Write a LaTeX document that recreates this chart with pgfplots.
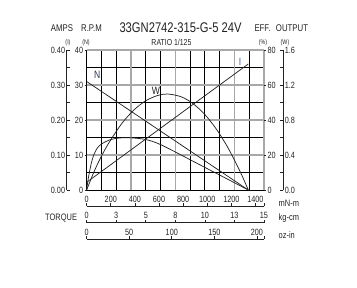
\documentclass[border=0pt]{standalone}
\usepackage{pgfplots}
\pgfplotsset{compat=1.18}
\usepackage{fontspec}
\setmainfont{Liberation Sans}[FakeStretch=0.8]
\definecolor{ink}{HTML}{222222}
\definecolor{gridgray}{HTML}{A8A8A8}
\definecolor{lblblue}{HTML}{3A5AA8}
\definecolor{lblnavy}{HTML}{27324F}
\begin{document}
\begin{tikzpicture}[x=1pt,y=1pt]
\useasboundingbox (0,0) rectangle (267.75,216);
\pgfplotsset{
 ov/.style={at={(65pt,73.5pt)}, anchor=south west, width=133pt, height=105pt, scale only axis, xmin=0, xmax=15, clip=false},
 every tick label/.append style={font=\fontsize{6.8}{7}\selectfont, text=ink},
 /pgf/number format/assume math mode=true,
 /pgf/number format/1000 sep={},
}
% grid + N
\begin{axis}[ov, ymin=0, ymax=40,
 xtick={0,1.25,2.5,5,6.25,8.75,10,11.25,13.75},
 ytick={0,5,15,25,35},
 extra x ticks={3.75,7.5,12.5,15},
 extra y ticks={10,20,30,40},
 xticklabels={}, yticklabels={},
 extra x tick labels={}, extra y tick labels={},
 grid=major,
 major grid style={black, line width=0.65pt},
 extra x tick style={grid=major, major grid style={gridgray, line width=0.8pt}},
 extra y tick style={grid=major, major grid style={gridgray, line width=0.8pt}},
 axis line style={draw=none},
 major tick length=0pt,
]
\addplot[ink, line width=0.55pt] coordinates {(0,31) (13.67,0)};
\node[lblnavy, font=\fontsize{8}{9}\selectfont] at (axis cs:0.9,32.9) {N};
\node[ink, font=\fontsize{8}{9}\selectfont] at (axis cs:5.86,28.4) {W};
\node[lblblue, font=\fontsize{8}{9}\selectfont] at (axis cs:12.97,36.7) {I};
\end{axis}
% N tick labels
\begin{axis}[ov, ymin=0, ymax=40, axis y line*=left, hide x axis,
 axis line style={draw=none}, ytick={0,10,20,30,40},
 major tick length=1.5pt, tick align=outside, tick style={ink, line width=0.5pt},
 yticklabel style={inner sep=1pt}]
\addplot[draw=none] coordinates {(0,0)};
\end{axis}
% current
\begin{axis}[ov, ymin=0, ymax=0.4, hide axis]
\addplot[ink, line width=0.55pt] coordinates {(0,0.022) (13.67,0.36)};
\end{axis}
% efficiency
\begin{axis}[ov, ymin=0, ymax=80, axis y line*=right, hide x axis,
 axis line style={draw=none}, ytick={0,20,40,60,80},
 major tick length=1.5pt, tick align=outside, tick style={ink, line width=0.5pt},
 yticklabel style={inner sep=1pt}]
\addplot[ink, line width=0.55pt, smooth, tension=0.5] coordinates {
(0,0) (0.1,5) (0.2,9) (0.4,15.5) (0.6,20) (0.9,24) (1.3,26.5) (1.9,28.5) (2.5,29.5) (3.2,29.9) (4.0,29.7) (4.9,29.0) (5.6,27.7) (6.3,25.8) (7.3,22.4) (8.3,18.9) (10,12.9) (12,5.9) (13.67,0)};
\end{axis}
% output
\begin{axis}[ov, ymin=0, ymax=1.6, hide axis]
\addplot[ink, line width=0.55pt, smooth, tension=0.5] coordinates {
(0,0) (0.5,0.17) (1,0.32) (1.5,0.45) (2,0.565) (3,0.765) (4,0.915) (5,1.02) (6,1.08) (6.85,1.097) (8,1.065) (9,0.987) (10,0.862) (11,0.69) (12,0.471) (13,0.205) (13.67,0)};
\end{axis}
% amps axis
\begin{axis}[at={(50pt,73.5pt)}, anchor=south west, width=1pt, height=105pt, scale only axis,
 xmin=0, xmax=1, ymin=0, ymax=0.4, axis y line=left, hide x axis,
 ytick={0,0.1,0.2,0.3,0.4}, yticklabels={0.00,0.10,0.20,0.30,0.40},
 minor ytick={0.05,0.15,0.25,0.35}, tick align=inside,
 major tick length=2.5pt, minor tick length=2.5pt,
 tick style={ink, line width=0.5pt},
 axis line style={ink, line width=0.6pt, -}, yticklabel style={inner sep=1pt}]
\addplot[draw=none] coordinates {(0,0)};
\end{axis}
% output axis
\begin{axis}[at={(212.5pt,73.5pt)}, anchor=south east, width=1pt, height=105pt, scale only axis,
 xmin=0, xmax=1, ymin=0, ymax=1.6, axis y line=right, hide x axis,
 ytick={0,0.4,0.8,1.2,1.6}, yticklabels={0.0,0.4,0.8,1.2,1.6},
 minor ytick={0.2,0.6,1.0,1.4}, tick align=inside,
 major tick length=2.5pt, minor tick length=2.5pt,
 tick style={ink, line width=0.5pt},
 axis line style={ink, line width=0.6pt, -}, yticklabel style={inner sep=1pt}]
\addplot[draw=none] coordinates {(0,0)};
\end{axis}
% mN-m axis
\begin{axis}[at={(65pt,61.5pt)}, anchor=north west, width=133pt, height=1pt, scale only axis,
 xmin=0, xmax=1471, ymin=0, ymax=1, axis x line=top, hide y axis,
 xtick={0,200,400,600,800,1000,1200,1400}, extra x ticks={1471}, extra x tick labels={},
 tick align=outside, major tick length=2pt, tick style={ink, line width=0.5pt},
 axis line style={ink, line width=0.6pt, -}, xticklabel style={inner sep=0.5pt}]
\addplot[draw=none] coordinates {(0,0)};
\end{axis}
% kg-cm axis
\begin{axis}[at={(65pt,49pt)}, anchor=north west, width=133pt, height=1pt, scale only axis,
 xmin=0, xmax=15, ymin=0, ymax=1, axis x line=top, hide y axis,
 xtick={0,2.5,5,7.5,10,12.5,15}, xticklabels={0,3,5,8,10,13,15},
 tick align=outside, major tick length=2pt, tick style={ink, line width=0.5pt},
 axis line style={ink, line width=0.6pt, -}, xticklabel style={inner sep=0.5pt}]
\addplot[draw=none] coordinates {(0,0)};
\end{axis}
% oz-in axis
\begin{axis}[at={(65pt,36.75pt)}, anchor=north west, width=133pt, height=1pt, scale only axis,
 xmin=0, xmax=208.33, ymin=0, ymax=1, axis x line=top, hide y axis,
 xtick={0,50,100,150,200}, extra x ticks={208.33}, extra x tick labels={},
 tick align=outside, major tick length=2pt, tick style={ink, line width=0.5pt},
 axis line style={ink, line width=0.6pt, -}, xticklabel style={inner sep=0.5pt}]
\addplot[draw=none] coordinates {(0,0)};
\end{axis}
% texts
\node[ink, font=\fontsize{10.5}{12}\selectfont] at (135.4,195) {33GN2742-315-G-5 24V};
\node[ink, font=\fontsize{7.3}{8}\selectfont] at (46.5,195) {AMPS};
\node[ink, font=\fontsize{7.3}{8}\selectfont] at (68.6,195) {R.P.M};
\node[ink, font=\fontsize{7.3}{8}\selectfont] at (196.9,195) {EFF.};
\node[ink, font=\fontsize{7.3}{8}\selectfont] at (219,195) {OUTPUT};
\node[ink, font=\fontsize{6.5}{7}\selectfont] at (128.6,184.5) {RATIO 1/125};
\node[ink, font=\fontsize{5}{6}\selectfont] at (51,183.75) {(I)};
\node[ink, font=\fontsize{5}{6}\selectfont] at (64.5,183.75) {(N)};
\node[ink, font=\fontsize{5}{6}\selectfont] at (197.25,183.75) {(\%)};
\node[ink, font=\fontsize{5}{6}\selectfont] at (213.75,183.75) {(W)};
\node[ink, font=\fontsize{7}{8}\selectfont, anchor=west] at (205.5,63.5) {mN-m};
\node[ink, font=\fontsize{7}{8}\selectfont, anchor=west] at (205.5,52.25) {kg-cm};
\node[ink, font=\fontsize{7}{8}\selectfont, anchor=west] at (205.5,39.75) {oz-in};
\node[ink, font=\fontsize{7}{8}\selectfont, anchor=east] at (61.3,52.25) {TORQUE};
\end{tikzpicture}
\end{document}
